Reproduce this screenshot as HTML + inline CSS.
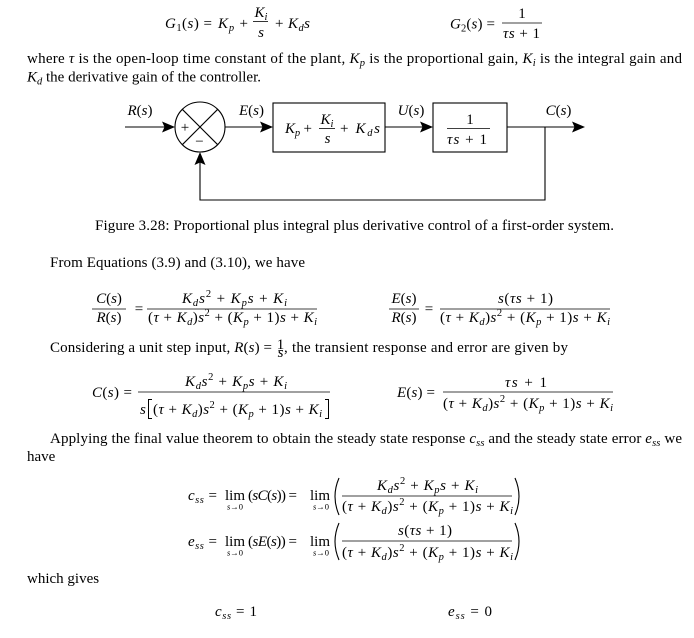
<!DOCTYPE html>
<html>
<head>
<meta charset="utf-8">
<style>
  html, body { margin:0; padding:0; background:#fff; }
  body { width:694px; height:638px; overflow:hidden; }
  svg { display:block; }
  text { font-family: "Liberation Serif", "DejaVu Serif", serif; font-size:15px; fill:#000; }
  .m { font-style: italic; }
  .u { font-style: normal; }
  .s { font-size:10.5px; }
  .xs { font-size:8.5px; }
</style>
</head>
<body>
<svg width="694" height="638" viewBox="0 0 694 638" xmlns="http://www.w3.org/2000/svg">

  <!-- Top formulas -->
  <text class="m" x="165" y="28" textLength="47" lengthAdjust="spacing">G<tspan class="s u" baseline-shift="-3">1</tspan><tspan class="u">(</tspan>s<tspan class="u">) =</tspan></text>
  <text class="m" x="218" y="28" textLength="30" lengthAdjust="spacing">K<tspan class="s" baseline-shift="-3">p</tspan> <tspan class="u">+</tspan></text>
  <text class="m" x="261" y="17" text-anchor="middle">K<tspan class="s" baseline-shift="-3">i</tspan></text>
  <line x1="253" y1="21.5" x2="268" y2="21.5" stroke="#000" stroke-width="0.8"/>
  <text class="m" x="261" y="37" text-anchor="middle">s</text>
  <text class="m" x="275" y="28" textLength="35" lengthAdjust="spacing"><tspan class="u">+</tspan> K<tspan class="s" baseline-shift="-3">d</tspan>s</text>

  <text class="m" x="450" y="28.5" textLength="45" lengthAdjust="spacing">G<tspan class="s u" baseline-shift="-3">2</tspan><tspan class="u">(</tspan>s<tspan class="u">) =</tspan></text>
  <text class="u" x="522" y="18" text-anchor="middle">1</text>
  <line x1="502" y1="23" x2="542" y2="23" stroke="#000" stroke-width="0.8"/>
  <text class="m" x="503" y="38" textLength="37" lengthAdjust="spacing">τs <tspan class="u">+ 1</tspan></text>

  <!-- Paragraph -->
  <text x="27" y="63" textLength="655" lengthAdjust="spacing">where <tspan class="m">τ</tspan> is the open-loop time constant of the plant, <tspan class="m">K</tspan><tspan class="m s" baseline-shift="-3">p</tspan> is the proportional gain, <tspan class="m">K</tspan><tspan class="m s" baseline-shift="-3">i</tspan> is the integral gain and</text>
  <text x="27" y="81.5" textLength="234" lengthAdjust="spacing"><tspan class="m">K</tspan><tspan class="m s" baseline-shift="-3">d</tspan> the derivative gain of the controller.</text>

  <!-- Block diagram -->
  <g stroke="#000" stroke-width="1.1" fill="none">
    <line x1="125" y1="127" x2="166" y2="127"/>
    <circle cx="200" cy="127" r="25"/>
    <line x1="182.3" y1="109.3" x2="217.7" y2="144.7"/>
    <line x1="217.7" y1="109.3" x2="182.3" y2="144.7"/>
    <line x1="225" y1="127" x2="264" y2="127"/>
    <rect x="273" y="103" width="112" height="49"/>
    <line x1="385" y1="127" x2="424" y2="127"/>
    <rect x="433" y="103" width="74" height="49"/>
    <line x1="507" y1="127" x2="576" y2="127"/>
    <polyline points="545,127 545,200 200,200 200,161"/>
  </g>
  <g fill="#000">
    <polygon points="175,127 162,121.5 164.5,127 162,132.5"/>
    <polygon points="273,127 260,121.5 262.5,127 260,132.5"/>
    <polygon points="433,127 420,121.5 422.5,127 420,132.5"/>
    <polygon points="585,127 572,121.5 574.5,127 572,132.5"/>
    <polygon points="200,152 194.5,165 200,162.5 205.5,165"/>
  </g>
  <text class="u" x="185" y="132" text-anchor="middle" font-size="11">+</text>
  <text class="u" x="199.5" y="146" text-anchor="middle" font-size="12">−</text>

  <text class="m" x="140" y="115" text-anchor="middle">R<tspan class="u">(</tspan>s<tspan class="u">)</tspan></text>
  <text class="m" x="251.5" y="115" text-anchor="middle">E<tspan class="u">(</tspan>s<tspan class="u">)</tspan></text>
  <text class="m" x="411" y="115" text-anchor="middle">U<tspan class="u">(</tspan>s<tspan class="u">)</tspan></text>
  <text class="m" x="558.5" y="115" text-anchor="middle">C<tspan class="u">(</tspan>s<tspan class="u">)</tspan></text>

  <text class="m" x="285" y="133" textLength="27" lengthAdjust="spacing">K<tspan class="s" baseline-shift="-3">p</tspan> <tspan class="u">+</tspan></text>
  <text class="m" x="327" y="124" text-anchor="middle">K<tspan class="s" baseline-shift="-3">i</tspan></text>
  <line x1="319" y1="128.5" x2="335" y2="128.5" stroke="#000" stroke-width="0.8"/>
  <text class="m" x="327.5" y="143" text-anchor="middle">s</text>
  <text class="m" x="340" y="133" textLength="40" lengthAdjust="spacing"><tspan class="u">+</tspan> K<tspan class="s" baseline-shift="-3">d</tspan>s</text>

  <text class="u" x="470" y="124" text-anchor="middle">1</text>
  <line x1="447" y1="128.5" x2="490" y2="128.5" stroke="#000" stroke-width="0.8"/>
  <text class="m" x="447" y="144" textLength="40" lengthAdjust="spacing">τs <tspan class="u">+ 1</tspan></text>

  <!-- Caption -->
  <text x="95" y="230" textLength="519" lengthAdjust="spacing">Figure 3.28: Proportional plus integral plus derivative control of a first-order system.</text>

  <text x="50" y="267" textLength="255" lengthAdjust="spacing">From Equations (3.9) and (3.10), we have</text>

  <!-- C(s)/R(s) -->
  <text class="m" x="109" y="303" text-anchor="middle">C<tspan class="u">(</tspan>s<tspan class="u">)</tspan></text>
  <line x1="92" y1="309" x2="126" y2="309" stroke="#000" stroke-width="0.8"/>
  <text class="m" x="109" y="322" text-anchor="middle">R<tspan class="u">(</tspan>s<tspan class="u">)</tspan></text>
  <text class="u" x="139" y="313.5" text-anchor="middle">=</text>
  <line x1="147" y1="309" x2="317" y2="309" stroke="#000" stroke-width="0.8"/>
  <text class="m" x="182" y="303" textLength="105" lengthAdjust="spacing">K<tspan class="s" baseline-shift="-3">d</tspan>s<tspan class="s u" baseline-shift="6">2</tspan> <tspan class="u">+</tspan> K<tspan class="s" baseline-shift="-3">p</tspan>s <tspan class="u">+</tspan> K<tspan class="s" baseline-shift="-3">i</tspan></text>
  <text class="m" x="148" y="322" textLength="169" lengthAdjust="spacing"><tspan class="u">(</tspan>τ <tspan class="u">+</tspan> K<tspan class="s" baseline-shift="-3">d</tspan><tspan class="u">)</tspan>s<tspan class="s u" baseline-shift="6">2</tspan> <tspan class="u">+ (</tspan>K<tspan class="s" baseline-shift="-3">p</tspan> <tspan class="u">+ 1)</tspan>s <tspan class="u">+</tspan> K<tspan class="s" baseline-shift="-3">i</tspan></text>

  <!-- E(s)/R(s) -->
  <text class="m" x="404" y="303" text-anchor="middle">E<tspan class="u">(</tspan>s<tspan class="u">)</tspan></text>
  <line x1="389" y1="309" x2="419" y2="309" stroke="#000" stroke-width="0.8"/>
  <text class="m" x="404" y="322" text-anchor="middle">R<tspan class="u">(</tspan>s<tspan class="u">)</tspan></text>
  <text class="u" x="429" y="313.5" text-anchor="middle">=</text>
  <line x1="440" y1="309" x2="610" y2="309" stroke="#000" stroke-width="0.8"/>
  <text class="m" x="498" y="303" textLength="55" lengthAdjust="spacing">s<tspan class="u">(</tspan>τs <tspan class="u">+ 1)</tspan></text>
  <text class="m" x="440" y="322" textLength="170" lengthAdjust="spacing"><tspan class="u">(</tspan>τ <tspan class="u">+</tspan> K<tspan class="s" baseline-shift="-3">d</tspan><tspan class="u">)</tspan>s<tspan class="s u" baseline-shift="6">2</tspan> <tspan class="u">+ (</tspan>K<tspan class="s" baseline-shift="-3">p</tspan> <tspan class="u">+ 1)</tspan>s <tspan class="u">+</tspan> K<tspan class="s" baseline-shift="-3">i</tspan></text>

  <!-- Considering line -->
  <text x="50" y="352" textLength="222" lengthAdjust="spacing">Considering a unit step input, <tspan class="m">R</tspan>(<tspan class="m">s</tspan>) =</text>
  <text class="u" x="280.5" y="349" text-anchor="middle" font-size="8.5">1</text>
  <line x1="278" y1="350.5" x2="283" y2="350.5" stroke="#000" stroke-width="0.5"/>
  <text class="m" x="280.5" y="357" text-anchor="middle" font-size="8.5">s</text>
  <text x="284" y="352" textLength="284" lengthAdjust="spacing">, the transient response and error are given by</text>

  <!-- C(s) = -->
  <text class="m" x="92" y="397" textLength="40" lengthAdjust="spacing">C<tspan class="u">(</tspan>s<tspan class="u">) =</tspan></text>
  <line x1="138" y1="392" x2="330" y2="392" stroke="#000" stroke-width="0.8"/>
  <text class="m" x="185" y="386" textLength="102" lengthAdjust="spacing">K<tspan class="s" baseline-shift="-3">d</tspan>s<tspan class="s u" baseline-shift="6">2</tspan> <tspan class="u">+</tspan> K<tspan class="s" baseline-shift="-3">p</tspan>s <tspan class="u">+</tspan> K<tspan class="s" baseline-shift="-3">i</tspan></text>
  <text class="m" x="140" y="414">s</text>
  <path d="M152,399.5 L148.5,399.5 L148.5,418.5 L152,418.5" stroke="#000" stroke-width="1" fill="none"/>
  <path d="M325,399.5 L328.5,399.5 L328.5,418.5 L325,418.5" stroke="#000" stroke-width="1" fill="none"/>
  <text class="m" x="153" y="414" textLength="169" lengthAdjust="spacing"><tspan class="u">(</tspan>τ <tspan class="u">+</tspan> K<tspan class="s" baseline-shift="-3">d</tspan><tspan class="u">)</tspan>s<tspan class="s u" baseline-shift="6">2</tspan> <tspan class="u">+ (</tspan>K<tspan class="s" baseline-shift="-3">p</tspan> <tspan class="u">+ 1)</tspan>s <tspan class="u">+</tspan> K<tspan class="s" baseline-shift="-3">i</tspan></text>

  <!-- E(s) = -->
  <text class="m" x="397" y="397" textLength="38" lengthAdjust="spacing">E<tspan class="u">(</tspan>s<tspan class="u">) =</tspan></text>
  <line x1="443" y1="392" x2="613" y2="392" stroke="#000" stroke-width="0.8"/>
  <text class="m" x="505" y="387" textLength="42" lengthAdjust="spacing">τs <tspan class="u">+ 1</tspan></text>
  <text class="m" x="443" y="408" textLength="170" lengthAdjust="spacing"><tspan class="u">(</tspan>τ <tspan class="u">+</tspan> K<tspan class="s" baseline-shift="-3">d</tspan><tspan class="u">)</tspan>s<tspan class="s u" baseline-shift="6">2</tspan> <tspan class="u">+ (</tspan>K<tspan class="s" baseline-shift="-3">p</tspan> <tspan class="u">+ 1)</tspan>s <tspan class="u">+</tspan> K<tspan class="s" baseline-shift="-3">i</tspan></text>

  <!-- Applying -->
  <text x="50" y="443" textLength="632" lengthAdjust="spacing">Applying the final value theorem to obtain the steady state response <tspan class="m">c</tspan><tspan class="m s" baseline-shift="-3">ss</tspan> and the steady state error <tspan class="m">e</tspan><tspan class="m s" baseline-shift="-3">ss</tspan> we</text>
  <text x="27" y="461">have</text>

  <!-- c_ss line -->
  <text class="m" x="188" y="500" textLength="29" lengthAdjust="spacing">c<tspan class="s" baseline-shift="-3">ss</tspan> <tspan class="u">=</tspan></text>
  <text class="u" x="225" y="500" textLength="20" lengthAdjust="spacing">lim</text>
  <text class="m xs" x="235" y="509.5" text-anchor="middle">s<tspan class="u">→0</tspan></text>
  <text class="m" x="248" y="500" textLength="49" lengthAdjust="spacing"><tspan class="u">(</tspan>sC<tspan class="u">(</tspan>s<tspan class="u">)) =</tspan></text>
  <text class="u" x="310" y="500" textLength="20" lengthAdjust="spacing">lim</text>
  <text class="m xs" x="321" y="509.5" text-anchor="middle">s<tspan class="u">→0</tspan></text>
  <path d="M339,478 Q331,496.5 339,515" stroke="#000" stroke-width="1.1" fill="none"/>
  <path d="M515,478 Q523,496.5 515,515" stroke="#000" stroke-width="1.1" fill="none"/>
  <line x1="342" y1="496" x2="512" y2="496" stroke="#000" stroke-width="0.8"/>
  <text class="m" x="377" y="490" textLength="101" lengthAdjust="spacing">K<tspan class="s" baseline-shift="-3">d</tspan>s<tspan class="s u" baseline-shift="6">2</tspan> <tspan class="u">+</tspan> K<tspan class="s" baseline-shift="-3">p</tspan>s <tspan class="u">+</tspan> K<tspan class="s" baseline-shift="-3">i</tspan></text>
  <text class="m" x="342" y="511" textLength="171" lengthAdjust="spacing"><tspan class="u">(</tspan>τ <tspan class="u">+</tspan> K<tspan class="s" baseline-shift="-3">d</tspan><tspan class="u">)</tspan>s<tspan class="s u" baseline-shift="6">2</tspan> <tspan class="u">+ (</tspan>K<tspan class="s" baseline-shift="-3">p</tspan> <tspan class="u">+ 1)</tspan>s <tspan class="u">+</tspan> K<tspan class="s" baseline-shift="-3">i</tspan></text>

  <!-- e_ss line -->
  <text class="m" x="188" y="546" textLength="29" lengthAdjust="spacing">e<tspan class="s" baseline-shift="-3">ss</tspan> <tspan class="u">=</tspan></text>
  <text class="u" x="225" y="546" textLength="20" lengthAdjust="spacing">lim</text>
  <text class="m xs" x="235" y="555.5" text-anchor="middle">s<tspan class="u">→0</tspan></text>
  <text class="m" x="248" y="546" textLength="49" lengthAdjust="spacing"><tspan class="u">(</tspan>sE<tspan class="u">(</tspan>s<tspan class="u">)) =</tspan></text>
  <text class="u" x="310" y="546" textLength="20" lengthAdjust="spacing">lim</text>
  <text class="m xs" x="321" y="555.5" text-anchor="middle">s<tspan class="u">→0</tspan></text>
  <path d="M339,523 Q331,541.5 339,560" stroke="#000" stroke-width="1.1" fill="none"/>
  <path d="M515,523 Q523,541.5 515,560" stroke="#000" stroke-width="1.1" fill="none"/>
  <line x1="342" y1="541" x2="512" y2="541" stroke="#000" stroke-width="0.8"/>
  <text class="m" x="398" y="535" textLength="54" lengthAdjust="spacing">s<tspan class="u">(</tspan>τs <tspan class="u">+ 1)</tspan></text>
  <text class="m" x="342" y="557" textLength="171" lengthAdjust="spacing"><tspan class="u">(</tspan>τ <tspan class="u">+</tspan> K<tspan class="s" baseline-shift="-3">d</tspan><tspan class="u">)</tspan>s<tspan class="s u" baseline-shift="6">2</tspan> <tspan class="u">+ (</tspan>K<tspan class="s" baseline-shift="-3">p</tspan> <tspan class="u">+ 1)</tspan>s <tspan class="u">+</tspan> K<tspan class="s" baseline-shift="-3">i</tspan></text>

  <!-- which gives -->
  <text x="27" y="583">which gives</text>
  <text class="m" x="215" y="616" textLength="42" lengthAdjust="spacing">c<tspan class="s" baseline-shift="-3">ss</tspan> <tspan class="u">= 1</tspan></text>
  <text class="m" x="448" y="616" textLength="44" lengthAdjust="spacing">e<tspan class="s" baseline-shift="-3">ss</tspan> <tspan class="u">= 0</tspan></text>
</svg>
</body>
</html>
